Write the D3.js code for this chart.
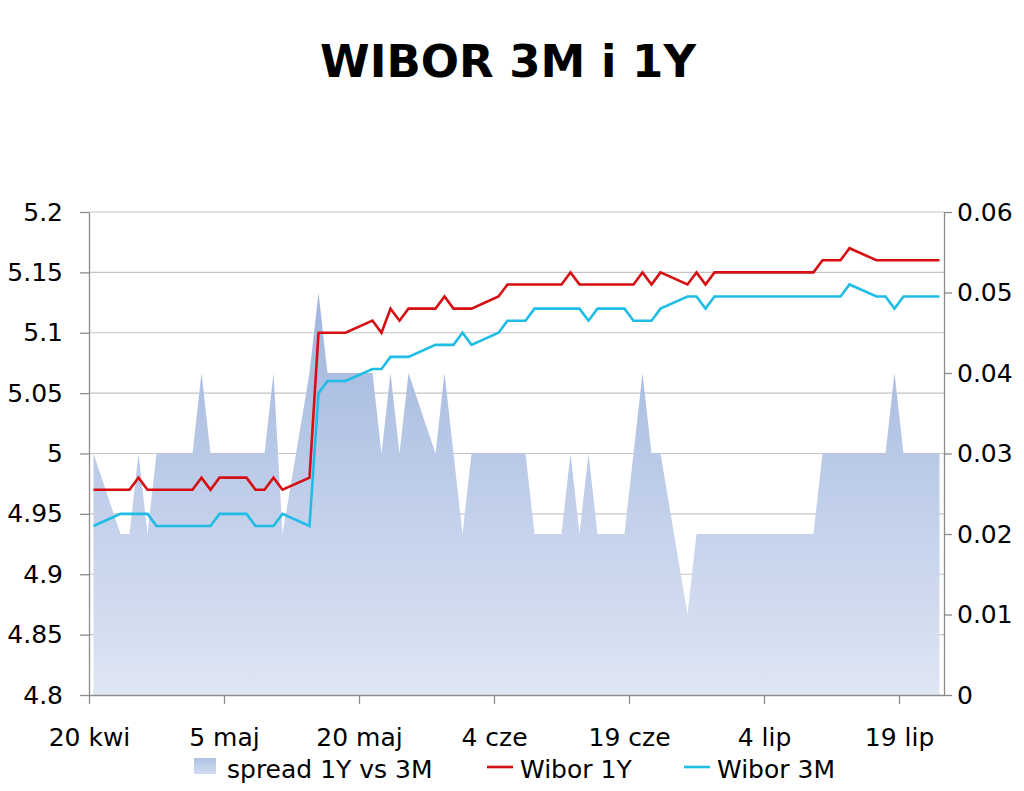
<!DOCTYPE html>
<html>
<head>
<meta charset="utf-8">
<script src="https://cdn.jsdelivr.net/npm/d3@7"></script>
<style>
  html, body { margin: 0; padding: 0; background: #fff; }
  svg { display: block; }
  text { font-family: "DejaVu Sans", Verdana, sans-serif; fill: #000; }
</style>
</head>
<body>
<svg id="chart" width="1024" height="791"></svg>
<script>
// ---- data ----
const dates = [
  "2012-04-20",
  "2012-04-23","2012-04-24","2012-04-25","2012-04-26","2012-04-27",
  "2012-04-30","2012-05-01","2012-05-02","2012-05-03","2012-05-04",
  "2012-05-07","2012-05-08","2012-05-09","2012-05-10","2012-05-11",
  "2012-05-14","2012-05-15","2012-05-16","2012-05-17","2012-05-18",
  "2012-05-21","2012-05-22","2012-05-23","2012-05-24","2012-05-25",
  "2012-05-28","2012-05-29","2012-05-30","2012-05-31","2012-06-01",
  "2012-06-04","2012-06-05","2012-06-06","2012-06-07","2012-06-08",
  "2012-06-11","2012-06-12","2012-06-13","2012-06-14","2012-06-15",
  "2012-06-18","2012-06-19","2012-06-20","2012-06-21","2012-06-22",
  "2012-06-25","2012-06-26","2012-06-27","2012-06-28","2012-06-29",
  "2012-07-02","2012-07-03","2012-07-04","2012-07-05","2012-07-06",
  "2012-07-09","2012-07-10","2012-07-11","2012-07-12","2012-07-13",
  "2012-07-16","2012-07-17","2012-07-18","2012-07-19","2012-07-20",
  "2012-07-23"
];
const wibor1Y = [
  4.97,
  4.97,4.97,4.98,4.97,4.97,
  4.97,4.97,4.98,4.97,4.98,
  4.98,4.97,4.97,4.98,4.97,
  4.98,5.10,5.10,5.10,5.10,
  5.11,5.10,5.12,5.11,5.12,
  5.12,5.13,5.12,5.12,5.12,
  5.13,5.14,5.14,5.14,5.14,
  5.14,5.15,5.14,5.14,5.14,
  5.14,5.14,5.15,5.14,5.15,
  5.14,5.15,5.14,5.15,5.15,
  5.15,5.15,5.15,5.15,5.15,
  5.15,5.16,5.16,5.16,5.17,
  5.16,5.16,5.16,5.16,5.16,
  5.16
];
const wibor3M = [
  4.94,
  4.95,4.95,4.95,4.95,4.94,
  4.94,4.94,4.94,4.94,4.95,
  4.95,4.94,4.94,4.94,4.95,
  4.94,5.05,5.06,5.06,5.06,
  5.07,5.07,5.08,5.08,5.08,
  5.09,5.09,5.09,5.10,5.09,
  5.10,5.11,5.11,5.11,5.12,
  5.12,5.12,5.12,5.11,5.12,
  5.12,5.11,5.11,5.11,5.12,
  5.13,5.13,5.12,5.13,5.13,
  5.13,5.13,5.13,5.13,5.13,
  5.13,5.13,5.13,5.13,5.14,
  5.13,5.13,5.12,5.13,5.13,
  5.13
];
const spread = [
  0.03,
  0.02,0.02,0.03,0.02,0.03,
  0.03,0.03,0.04,0.03,0.03,
  0.03,0.03,0.03,0.04,0.02,
  0.04,0.05,0.04,0.04,0.04,
  0.04,0.03,0.04,0.03,0.04,
  0.03,0.04,0.03,0.02,0.03,
  0.03,0.03,0.03,0.03,0.02,
  0.02,0.03,0.02,0.03,0.02,
  0.02,0.03,0.04,0.03,0.03,
  0.01,0.02,0.02,0.02,0.02,
  0.02,0.02,0.02,0.02,0.02,
  0.02,0.03,0.03,0.03,0.03,
  0.03,0.03,0.04,0.03,0.03,
  0.03
];
const leftTicks = [4.8, 4.85, 4.9, 4.95, 5, 5.05, 5.1, 5.15, 5.2];
const leftTickLabels = ["4.8","4.85","4.9","4.95","5","5.05","5.1","5.15","5.2"];
const rightTicks = [0, 0.01, 0.02, 0.03, 0.04, 0.05, 0.06];
const rightTickLabels = ["0","0.01","0.02","0.03","0.04","0.05","0.06"];
const xTickDates = ["2012-04-20","2012-05-05","2012-05-20","2012-06-04","2012-06-19","2012-07-04","2012-07-19"];
const xTickLabels = ["20 kwi","5 maj","20 maj","4 cze","19 cze","4 lip","19 lip"];
const xDomain = ["2012-04-20","2012-07-24"];
const seriesNames = ["spread 1Y vs 3M","Wibor 1Y","Wibor 3M"];
const title = "WIBOR 3M i 1Y";

// ---- drawing ----
const svg = d3.select("#chart");
const parse = d3.utcParse("%Y-%m-%d");
const HALF_DAY = 12 * 3600 * 1000;

const plot = { left: 89, right: 944, top: 212, bottom: 695 };
const x = d3.scaleUtc().domain(xDomain.map(parse)).range([plot.left, plot.right]);
const yL = d3.scaleLinear().domain([4.8, 5.2]).range([plot.bottom, plot.top]);
const yR = d3.scaleLinear().domain([0, 0.06]).range([plot.bottom, plot.top]);

const data = dates.map((d, i) => ({
  t: new Date(parse(d).getTime() + HALF_DAY),
  y1: wibor1Y[i], m3: wibor3M[i], s: spread[i]
}));

// gradient
const defs = svg.append("defs");
const grad = defs.append("linearGradient").attr("id", "areaGrad")
  .attr("gradientUnits", "userSpaceOnUse")
  .attr("x1", 0).attr("x2", 0).attr("y1", yR(0.05)).attr("y2", plot.bottom);
grad.append("stop").attr("offset", "0%").attr("stop-color", "#9fb5de");
grad.append("stop").attr("offset", "100%").attr("stop-color", "#dfe6f4");
const lgGrad = defs.append("linearGradient").attr("id", "legGrad")
  .attr("x1", 0).attr("x2", 0).attr("y1", 0).attr("y2", 1);
lgGrad.append("stop").attr("offset", "0%").attr("stop-color", "#aec1e5");
lgGrad.append("stop").attr("offset", "100%").attr("stop-color", "#d3dcf0");

// title
const tt = svg.append("text")
  .attr("x", 508).attr("y", 77)
  .attr("text-anchor", "middle")
  .style("font-size", "45px").style("font-weight", "bold")
  .text(title);
const tw = tt.node().getComputedTextLength();
if (Math.abs(tw - 373) > 4) tt.attr("textLength", 373).attr("lengthAdjust", "spacingAndGlyphs");

// gridlines
svg.append("g").selectAll("line")
  .data(leftTicks.filter(v => v !== 4.8))
  .join("line")
  .attr("x1", plot.left).attr("x2", plot.right)
  .attr("y1", d => yL(d)).attr("y2", d => yL(d))
  .attr("stroke", "#c4c4c4").attr("stroke-width", 1.2);

// area
const area = d3.area()
  .x(d => x(d.t)).y0(yR(0)).y1(d => yR(d.s));
svg.append("path").datum(data)
  .attr("d", area).attr("fill", "url(#areaGrad)");

// lines
const line1 = d3.line().x(d => x(d.t)).y(d => yL(d.y1));
const line3 = d3.line().x(d => x(d.t)).y(d => yL(d.m3));
svg.append("path").datum(data).attr("d", line1)
  .attr("fill", "none").attr("stroke", "#d50f12").attr("stroke-width", 2.6)
  .attr("stroke-linejoin", "miter");
svg.append("path").datum(data).attr("d", line3)
  .attr("fill", "none").attr("stroke", "#1fbde6").attr("stroke-width", 2.6)
  .attr("stroke-linejoin", "miter");

// axes
const axisColor = "#8c8c8c";
const gL = svg.append("g").attr("transform", `translate(${plot.left},0)`)
  .call(d3.axisLeft(yL).tickValues(leftTicks)
    .tickFormat((d, i) => leftTickLabels[i]).tickSize(9).tickSizeOuter(0).tickPadding(17));
const gR = svg.append("g").attr("transform", `translate(${plot.right},0)`)
  .call(d3.axisRight(yR).tickValues(rightTicks)
    .tickFormat((d, i) => rightTickLabels[i]).tickSize(8).tickSizeOuter(0).tickPadding(5));
const gB = svg.append("g").attr("transform", `translate(0,${plot.bottom})`)
  .call(d3.axisBottom(x).tickValues(xTickDates.map(parse))
    .tickFormat((d, i) => xTickLabels[i]).tickSize(9).tickSizeOuter(0));
gB.selectAll("text").attr("y", 51).attr("dy", 0);
[gL, gR, gB].forEach(g => {
  g.selectAll(".domain").attr("stroke", axisColor).attr("stroke-width", 1.3);
  g.selectAll(".tick line").attr("stroke", axisColor).attr("stroke-width", 1.3);
  g.selectAll("text").style("font-size", "25px")
    .style("font-family", '"DejaVu Sans", Verdana, sans-serif').attr("fill", "#000");
});

// legend
const leg = svg.append("g");
leg.append("rect").attr("x", 194).attr("y", 758).attr("width", 22).attr("height", 16)
  .attr("fill", "url(#legGrad)");
leg.append("text").attr("x", 227).attr("y", 778).style("font-size", "25px").text(seriesNames[0]);
leg.append("line").attr("x1", 487).attr("x2", 513).attr("y1", 767).attr("y2", 767)
  .attr("stroke", "#d50f12").attr("stroke-width", 2.6);
leg.append("text").attr("x", 520).attr("y", 778).style("font-size", "25px").text(seriesNames[1]);
leg.append("line").attr("x1", 684).attr("x2", 710).attr("y1", 767).attr("y2", 767)
  .attr("stroke", "#1fbde6").attr("stroke-width", 2.6);
leg.append("text").attr("x", 717).attr("y", 778).style("font-size", "25px").text(seriesNames[2]);
</script>
</body>
</html>
